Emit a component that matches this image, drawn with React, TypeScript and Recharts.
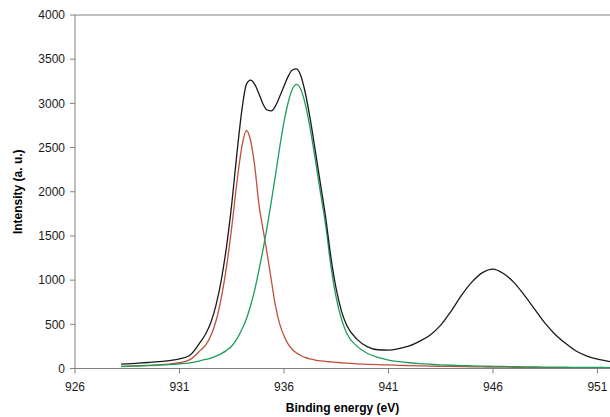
import { LineChart, Line, XAxis, YAxis, ReferenceLine } from "recharts";

// binding energy (eV) sample points
const energy = [
  928.2, 928.5, 929, 929.5, 930, 930.5, 931, 931.5, 932, 932.25, 932.5, 932.75,
  933, 933.25, 933.5, 933.75, 934, 934.2, 934.4, 934.6, 934.8, 935, 935.2, 935.4,
  935.6, 935.8, 936, 936.2, 936.4, 936.6, 936.8, 937, 937.25, 937.5, 937.75, 938,
  938.25, 938.5, 938.75, 939, 939.5, 940, 940.5, 941, 941.5, 942, 942.5, 943,
  943.5, 944, 944.5, 945, 945.5, 946, 946.5, 947, 947.5, 948, 948.5, 949, 949.5,
  950, 950.5, 951, 951.6,
];

// black envelope
const envelope = [
  50, 53, 60, 68, 77, 89, 108, 150, 300, 390, 520, 720,
  1000, 1380, 1860, 2440, 2950, 3215, 3262, 3215, 3110, 2990, 2925, 2915,
  2975, 3080, 3195, 3305, 3378, 3390, 3315, 3140, 2830, 2460, 2080, 1700,
  1250, 900, 650, 490, 330, 245, 212, 208, 225, 255, 310, 380,
  490, 650, 830, 980, 1085, 1125, 1075, 975, 830, 670, 510, 380, 280,
  195, 140, 105, 78,
];

// red component (lower BE)
const peakLow = [
  25, 27, 31, 36, 42, 50, 65, 100, 205, 265, 370, 540,
  800, 1150, 1600, 2110, 2530, 2693, 2580, 2290, 1860, 1570, 1290, 990,
  700, 500, 370, 275, 215, 175, 148, 125, 108, 96, 87, 80,
  75, 70, 65, 60, 53, 47, 43, 40, 36, 33, 30, 27,
  25, 23, 21, 19, 18, 16, 15, 14, 13, 12, 11, 10, 10,
  9, 9, 8, 8,
];

// green component (higher BE)
const peakHigh = [
  22, 24, 28, 32, 37, 43, 52, 64, 88, 102, 118, 140,
  168, 205, 255, 335, 450, 560, 710, 890, 1110, 1350, 1610, 1900,
  2200, 2510, 2790, 3010, 3160, 3214, 3160, 3010, 2720, 2360, 1980, 1610,
  1150, 800, 560, 400, 250, 170, 125, 96, 78, 65, 55, 48,
  42, 37, 33, 30, 27, 25, 23, 21, 19, 17, 16, 15, 14,
  13, 12, 12, 11,
];

const xTicks = [926, 931, 936, 941, 946, 951];
const yTicks = [0, 500, 1000, 1500, 2000, 2500, 3000, 3500, 4000];

const rows = energy.map((e, i) => ({
  energy: e,
  envelope: envelope[i],
  peakLow: peakLow[i],
  peakHigh: peakHigh[i],
}));

const font = "'Liberation Sans', Arial, sans-serif";
const axisColor = "#808080";
const tickStyle = { fill: "#1a1a1a", fontSize: 12, fontFamily: font };
const titleStyle = { fill: "#000", fontSize: 12, fontWeight: "bold", fontFamily: font };

export default function App() {
  return (
    <div style={{ position: "absolute", left: 0, top: 0 }}>
      <LineChart
        width={610}
        height={417}
        data={rows}
        margin={{ top: 15, right: 0, bottom: 0, left: 0 }}
      >
        <XAxis
          type="number"
          dataKey="energy"
          domain={[926, 951.6]}
          ticks={xTicks}
          interval={0}
          allowDataOverflow
          height={48.5}
          stroke={axisColor}
          tick={tickStyle}
          tickSize={5}
          tickMargin={9}
          label={{
            value: "Binding energy (eV)",
            position: "insideBottom",
            offset: 5,
            style: titleStyle,
          }}
        />
        <YAxis
          type="number"
          domain={[0, 4000]}
          ticks={yTicks}
          interval={0}
          width={75}
          stroke={axisColor}
          tick={tickStyle}
          tickSize={5}
          tickMargin={5}
          label={{
            value: "Intensity (a. u.)",
            angle: -90,
            position: "insideLeft",
            offset: 18,
            style: { ...titleStyle, textAnchor: "middle" },
          }}
        />
        <ReferenceLine y={4000} stroke={axisColor} />
        <Line
          type="monotone"
          dataKey="peakLow"
          stroke="#bf4f3a"
          strokeWidth={1.3}
          dot={false}
          isAnimationActive={false}
        />
        <Line
          type="monotone"
          dataKey="peakHigh"
          stroke="#1f9d5c"
          strokeWidth={1.3}
          dot={false}
          isAnimationActive={false}
        />
        <Line
          type="monotone"
          dataKey="envelope"
          stroke="#1a1a1a"
          strokeWidth={1.3}
          dot={false}
          isAnimationActive={false}
        />
      </LineChart>
    </div>
  );
}
